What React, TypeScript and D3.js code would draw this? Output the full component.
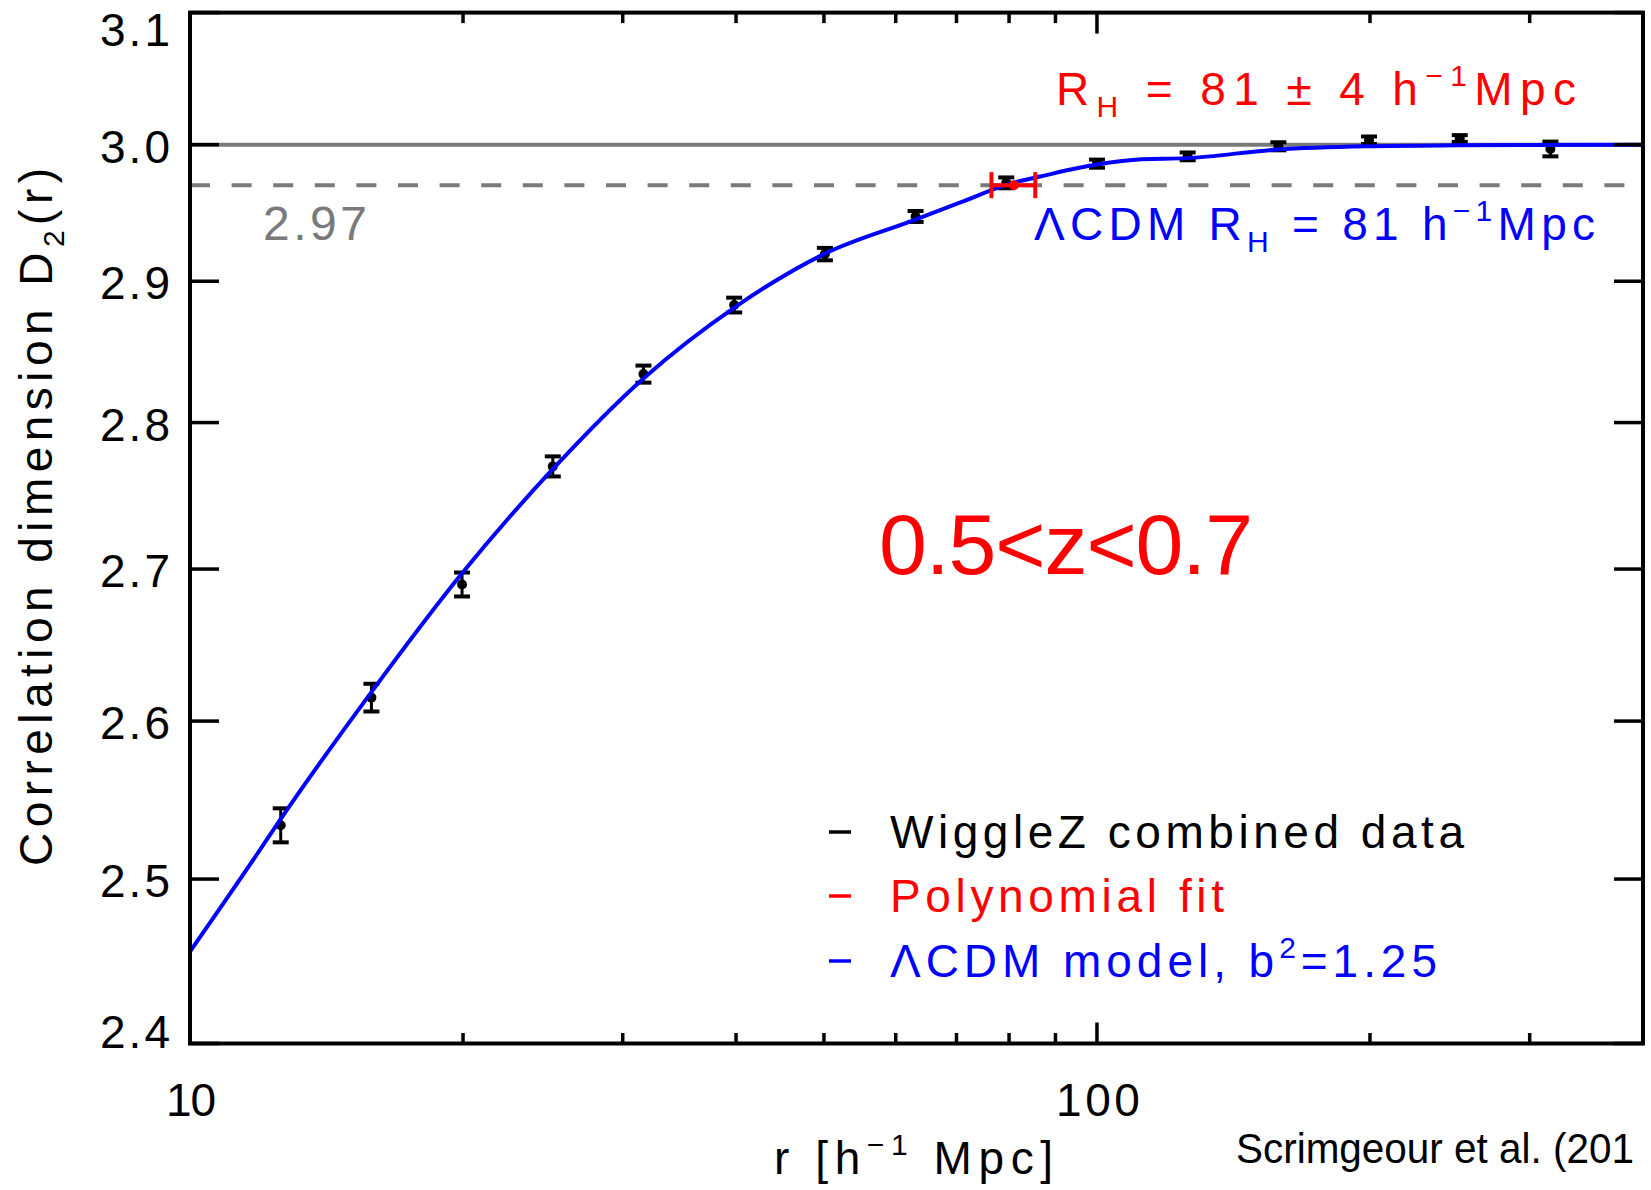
import React from "react";
import * as d3 from "d3";

// WiggleZ combined data, 0.5<z<0.7
const rData = [12.59, 15.85, 19.95, 25.12, 31.62, 39.81, 50.12, 63.1, 79.43, 100.0, 125.9, 158.5, 199.5, 251.2, 316.2];
const d2Data = [2.5336, 2.6152, 2.6897, 2.7697, 2.8339, 2.8829, 2.9196, 2.947, 2.9717, 2.9859, 2.9913, 2.9988, 3.0033, 3.0046, 2.9968];
const d2Err = [0.0107, 0.009, 0.008, 0.0069, 0.006, 0.0053, 0.0045, 0.004, 0.004, 0.003, 0.0029, 0.003, 0.0028, 0.0025, 0.0055];

// LCDM model curve, b^2 = 1.25
const rModel = [10, 11.74, 12.56, 15.85, 19.91, 25.1, 31.55, 39.87, 50.0, 62.96, 71.6, 79.25, 88.4, 99.9, 112, 125.5, 158, 198.5, 250, 400];
const d2Model = [2.4554, 2.5119, 2.5367, 2.6188, 2.6965, 2.7676, 2.8303, 2.8813, 2.9196, 2.9445, 2.9587, 2.97, 2.9778, 2.9852, 2.9892, 2.99, 2.9964, 2.9988, 2.9995, 3.0];

// homogeneity scale from polynomial fit
const rhValue = 81;
const rhLow = 76.5;
const rhHigh = 85.5;
const homogeneityLevel = 2.97;
const fullLevel = 3.0;

const yTicks = [2.4, 2.5, 2.6, 2.7, 2.8, 2.9, 3.0, 3.1];
const xMajor = [10, 100];
const xMinor = [20, 30, 40, 50, 60, 70, 80, 90, 200, 300];

const FONT = "'Liberation Sans', Arial, sans-serif";
const RED = "#ff0000";
const BLUE = "#0000ff";
const GRAY = "#7a7a7a";

export default function App() {
  const left = 190, right = 1643, top = 12.6, bottom = 1043.5;
  const x = d3.scaleLog().domain([10, 400]).range([left, right]);
  const y = d3.scaleLog().domain([2.4, 3.1]).range([bottom, top]);

  const model = rModel.map((r, i) => [r, d2Model[i]]);
  const line = d3
    .line<number[]>()
    .x((d) => x(d[0]))
    .y((d) => y(d[1]))
    .curve(d3.curveMonotoneX);

  return (
    <svg
      width={1651}
      height={1190}
      style={{ position: "absolute", left: 0, top: 0, display: "block", background: "#fff" }}
      fontFamily={FONT}
    >
      {/* reference lines */}
      <line x1={left} x2={right} y1={y(fullLevel)} y2={y(fullLevel)} stroke={GRAY} strokeWidth={4} />
      <line
        x1={left}
        x2={right}
        y1={y(homogeneityLevel)}
        y2={y(homogeneityLevel)}
        stroke={GRAY}
        strokeWidth={4}
        strokeDasharray="20,21.6"
      />

      {/* data with error bars */}
      <g stroke="#000">
        {rData.map((r, i) => {
          const cx = x(r);
          const y0 = y(d2Data[i] + d2Err[i]);
          const y1 = y(d2Data[i] - d2Err[i]);
          return (
            <g key={i}>
              <line x1={cx} x2={cx} y1={y0} y2={y1} strokeWidth={3} />
              <line x1={cx - 8} x2={cx + 8} y1={y0} y2={y0} strokeWidth={4} />
              <line x1={cx - 8} x2={cx + 8} y1={y1} y2={y1} strokeWidth={4} />
              <circle cx={cx} cy={y(d2Data[i])} r={5} fill="#000" stroke="none" />
            </g>
          );
        })}
      </g>

      {/* model */}
      <path d={line(model) || ""} fill="none" stroke={BLUE} strokeWidth={4} />

      {/* R_H with error */}
      <g stroke={RED} strokeWidth={4}>
        <line x1={x(rhLow)} x2={x(rhHigh)} y1={y(homogeneityLevel)} y2={y(homogeneityLevel)} />
        <line x1={x(rhLow)} x2={x(rhLow)} y1={y(homogeneityLevel) - 13} y2={y(homogeneityLevel) + 13} />
        <line x1={x(rhHigh)} x2={x(rhHigh)} y1={y(homogeneityLevel) - 13} y2={y(homogeneityLevel) + 13} />
        <circle cx={x(rhValue)} cy={y(homogeneityLevel)} r={5} fill={RED} stroke="none" />
      </g>

      {/* frame */}
      <rect x={left} y={top} width={right - left} height={bottom - top} fill="none" stroke="#000" strokeWidth={4} />

      {/* ticks */}
      <g stroke="#000" strokeWidth={3.5}>
        {yTicks.map((v) => (
          <g key={v}>
            <line x1={left} x2={left + 29} y1={y(v)} y2={y(v)} />
            <line x1={right} x2={right - 29} y1={y(v)} y2={y(v)} />
          </g>
        ))}
        {xMajor.map((v) => (
          <g key={v}>
            <line x1={x(v)} x2={x(v)} y1={bottom} y2={bottom - 21} />
            <line x1={x(v)} x2={x(v)} y1={top} y2={top + 21} />
          </g>
        ))}
        {xMinor.map((v) => (
          <g key={v}>
            <line x1={x(v)} x2={x(v)} y1={bottom} y2={bottom - 10.5} />
            <line x1={x(v)} x2={x(v)} y1={top} y2={top + 10.5} />
          </g>
        ))}
      </g>

      {/* tick labels */}
      <g fontSize={46} fill="#000">
        {yTicks.map((v) => {
          const cy = Math.max(28, Math.min(1030, y(v)));
          return (
            <text key={v} x={170} y={cy + 18} textAnchor="end" textLength={70} lengthAdjust="spacing">
              {v.toFixed(1)}
            </text>
          );
        })}
        {xMajor.map((v) => (
          <text
            key={v}
            x={x(v) + 1}
            y={1116}
            textAnchor="middle"
            textLength={v === 10 ? 50 : 84}
            lengthAdjust="spacing"
          >
            {v}
          </text>
        ))}
      </g>

      {/* axis titles */}
      <text x={774} y={1174} fontSize={46} textLength={279} lengthAdjust="spacing">
        r [h
        <tspan dy={-19} fontSize={30}>{"\u22121"}</tspan>
        <tspan dy={19}> Mpc]</tspan>
      </text>
      <text
        transform="translate(52,517) rotate(-90)"
        textAnchor="middle"
        fontSize={46}
        textLength={698}
        lengthAdjust="spacing"
      >
        Correlation dimension D
        <tspan dy={12} fontSize={30}>2</tspan>
        <tspan dy={-12}>(r)</tspan>
      </text>

      {/* annotations */}
      <text x={263} y={240} fontSize={48} fill={GRAY} textLength={104} lengthAdjust="spacing">
        2.97
      </text>
      <text x={1056} y={105} fontSize={46} fill={RED} textLength={520} lengthAdjust="spacing">
        R
        <tspan dy={12} fontSize={30}>H</tspan>
        <tspan dy={-12}> = 81 ± 4 h</tspan>
        <tspan dy={-19} fontSize={30}>{"\u22121"}</tspan>
        <tspan dy={19}>Mpc</tspan>
      </text>
      <text x={1034} y={240} fontSize={46} fill={BLUE} textLength={561} lengthAdjust="spacing">
        ΛCDM R
        <tspan dy={12} fontSize={30}>H</tspan>
        <tspan dy={-12}> = 81 h</tspan>
        <tspan dy={-19} fontSize={30}>{"\u22121"}</tspan>
        <tspan dy={19}>Mpc</tspan>
      </text>
      <text x={879} y={574} fontSize={86} fill={RED} textLength={374} lengthAdjust="spacing">
        0.5&lt;z&lt;0.7
      </text>

      {/* legend */}
      <g fontSize={46}>
        <line x1={829} x2={851} y1={832} y2={832} stroke="#000" strokeWidth={3.5} />
        <text x={890} y={848} fill="#000" textLength={574} lengthAdjust="spacing">
          WiggleZ combined data
        </text>
        <line x1={829} x2={851} y1={896} y2={896} stroke={RED} strokeWidth={3.5} />
        <text x={890} y={912} fill={RED} textLength={334} lengthAdjust="spacing">
          Polynomial fit
        </text>
        <line x1={829} x2={851} y1={961} y2={961} stroke={BLUE} strokeWidth={3.5} />
        <text x={890} y={977} fill={BLUE} textLength={547} lengthAdjust="spacing">
          ΛCDM model, b
          <tspan dy={-19} fontSize={30}>2</tspan>
          <tspan dy={19}>=1.25</tspan>
        </text>
      </g>

      <text x={1236} y={1163} fontSize={42} fill="#000" textLength={398} lengthAdjust="spacingAndGlyphs">
        Scrimgeour et al. (201
      </text>
    </svg>
  );
}
